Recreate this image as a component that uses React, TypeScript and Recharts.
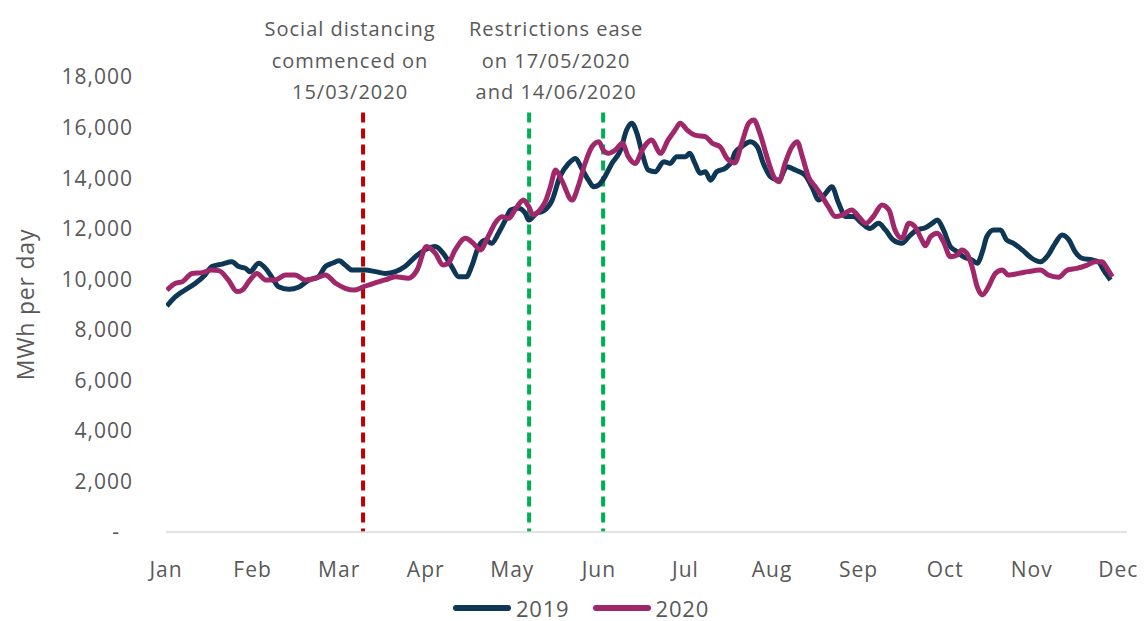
import { LineChart, Line, XAxis, YAxis, ReferenceLine, Legend } from "recharts";

// Month labels sit at evenly spaced positions 0..11 on the x axis
const MONTHS = ["Jan", "Feb", "Mar", "Apr", "May", "Jun", "Jul", "Aug", "Sep", "Oct", "Nov", "Dec"];
const MONTH_TICKS = MONTHS.map((_, i) => i);
const Y_TICKS = [0, 2000, 4000, 6000, 8000, 10000, 12000, 14000, 16000, 18000];

// 2019 daily demand (MWh per day), position in months from Jan
const X_2019 = [
  0.01, 0.11, 0.22, 0.34, 0.45, 0.53, 0.65, 0.76, 0.84, 0.92, 0.97,
  1.07, 1.15, 1.23, 1.3, 1.42, 1.53, 1.65, 1.76, 1.84, 1.92,
  2.0, 2.07, 2.15, 2.3, 2.42, 2.53, 2.65, 2.76, 2.88, 2.99,
  3.11, 3.2, 3.3, 3.38, 3.47, 3.53, 3.61, 3.69, 3.76, 3.84, 3.92, 3.98,
  4.07, 4.15, 4.19, 4.28, 4.36, 4.46, 4.55, 4.65, 4.73, 4.8, 4.88, 4.94,
  5.0, 5.07, 5.15, 5.25, 5.32, 5.38, 5.44, 5.5, 5.57, 5.65, 5.75, 5.82, 5.9,
  6.0, 6.05, 6.11, 6.17, 6.23, 6.29, 6.36, 6.46, 6.54, 6.57, 6.65, 6.75, 6.83, 6.9, 6.98,
  7.08, 7.17, 7.27, 7.38, 7.46, 7.54, 7.62, 7.69, 7.77, 7.85, 7.94,
  8.04, 8.13, 8.23, 8.31, 8.4, 8.5, 8.58, 8.67, 8.77, 8.85, 8.91, 8.98,
  9.06, 9.14, 9.21, 9.31, 9.37, 9.43, 9.48, 9.56, 9.64, 9.71, 9.79, 9.89,
  10.0, 10.1, 10.19, 10.27, 10.35, 10.43, 10.5, 10.58, 10.7, 10.77, 10.83, 10.91,
];
const MWH_2019 = [
  8940, 9310, 9575, 9840, 10170, 10500, 10600, 10690, 10500, 10430, 10300,
  10630, 10430, 10040, 9700, 9600, 9680, 9970, 10100, 10500, 10630,
  10730, 10560, 10360, 10360, 10300, 10230, 10300, 10500, 10890, 11160,
  11290, 11030, 10500, 10100, 10100, 10500, 11290, 11550, 11420, 11820, 12340, 12740,
  12810, 12610, 12340, 12610, 12700, 13130, 14060, 14580, 14780, 14390, 13920, 13660,
  13730, 14060, 14580, 15110, 15900, 16170, 15770, 14980, 14320, 14250, 14650, 14580, 14850,
  14850, 14980, 14580, 14190, 14250, 13920, 14250, 14390, 14720, 15000, 15240, 15440, 15240, 14580, 14060,
  13920, 14450, 14320, 14120, 13660, 13130, 13400, 13660, 13000, 12480, 12480,
  12210, 12010, 12210, 11950, 11550, 11420, 11680, 11950, 12040, 12210, 12340, 11950,
  11290, 11090, 10890, 10760, 10630, 11090, 11680, 11950, 11950, 11550, 11420, 11160,
  10830, 10690, 10960, 11420, 11750, 11550, 11090, 10830, 10760, 10690, 10360, 9970,
];

// 2020 daily demand (MWh per day)
const X_2020 = [
  0.01, 0.11, 0.19, 0.3, 0.42, 0.53, 0.61, 0.72, 0.82, 0.88, 0.97,
  1.05, 1.15, 1.26, 1.38, 1.49, 1.61, 1.73, 1.84, 1.96,
  2.07, 2.17, 2.28, 2.4, 2.53, 2.65, 2.8, 2.9,
  3.01, 3.11, 3.2, 3.26, 3.34, 3.46, 3.55, 3.63, 3.72, 3.8, 3.88, 3.96,
  4.03, 4.13, 4.19, 4.24, 4.32, 4.38, 4.44, 4.5, 4.57, 4.69, 4.76, 4.84, 4.92, 5.0,
  5.05, 5.11, 5.19, 5.27, 5.34, 5.42, 5.5, 5.61, 5.71, 5.8, 5.88, 5.94,
  6.02, 6.11, 6.23, 6.31, 6.4, 6.48, 6.57, 6.65, 6.73, 6.79, 6.86, 6.94,
  7.02, 7.08, 7.15, 7.23, 7.29, 7.35, 7.42, 7.5, 7.58, 7.65, 7.73, 7.81, 7.92,
  8.0, 8.08, 8.17, 8.27, 8.35, 8.42, 8.5, 8.58, 8.65, 8.73, 8.77, 8.83, 8.91, 8.98,
  9.06, 9.14, 9.19, 9.25, 9.31, 9.37, 9.43, 9.5, 9.58, 9.66, 9.73, 9.85, 9.96,
  10.1, 10.19, 10.31, 10.41, 10.52, 10.64, 10.73, 10.81, 10.87, 10.93,
];
const MWH_2020 = [
  9570, 9840, 9900, 10230, 10260, 10360, 10340, 9970, 9510, 9570, 9970,
  10230, 9970, 9970, 10170, 10170, 9970, 10040, 10170, 9840,
  9640, 9570, 9700, 9840, 9970, 10100, 10040, 10360,
  11290, 11030, 10560, 10630, 11160, 11620, 11420, 11160, 11680, 12210, 12470, 12410,
  12740, 13130, 12870, 12540, 12740, 13060, 13660, 14320, 13920, 13130, 13660, 14580, 15240, 15440,
  15110, 14980, 15110, 15380, 14850, 14580, 15110, 15510, 14980, 15510, 15900, 16170,
  15900, 15700, 15640, 15380, 15240, 14780, 14600, 15380, 16170, 16300, 15770, 14850,
  14060, 13860, 14580, 15240, 15440, 14850, 14060, 13660, 13260, 12870, 12480, 12540, 12740,
  12480, 12210, 12480, 12940, 12740, 11950, 11620, 12210, 12080, 11550, 11320, 11680, 11820, 11480,
  10890, 10960, 11160, 11030, 10500, 9700, 9380, 9700, 10230, 10360, 10170, 10230, 10300,
  10360, 10170, 10080, 10360, 10430, 10560, 10690, 10690, 10430, 10100,
];

// Policy dates marked on the axis (month position) and their notes
const EVENT_X = [2.276, 4.194, 5.049];
const EVENT_COLORS = ["#C00000", "#00B050", "#00B050"];
const EVENT_TOP = 16600;
const NOTE_DISTANCING = ["Social distancing", "commenced on", "15/03/2020"];
const NOTE_EASE = ["Restrictions ease", "on 17/05/2020", "and 14/06/2020"];

const zip = (xs: number[], vs: number[]) => xs.map((x, i) => ({ x, v: vs[i] }));
const data2019 = zip(X_2019, MWH_2019);
const data2020 = zip(X_2020, MWH_2020);

const FONT = "'Open Sans', sans-serif";
const TEXT = "#595959";
const C2019 = "#0D3755";
const C2020 = "#A0286A";

const YTick = ({ x, y, payload }: any) => (
  <text
    x={payload.value === 0 ? x - 13 : x}
    y={y}
    dy="0.355em"
    textAnchor="end"
    fill={TEXT}
    fontFamily={FONT}
    fontSize={21}
    letterSpacing={1}
  >
    {payload.value === 0 ? "-" : payload.value.toLocaleString("en-US")}
  </text>
);

const noteLabel = (lines: string[], dx: number) => (props: any) => {
  const vb = props.viewBox;
  const cx = vb.x + dx;
  return (
    <text textAnchor="middle" fill={TEXT} fontFamily={FONT} fontSize={20} letterSpacing={1}>
      {lines.map((l, i) => (
        <tspan key={i} x={cx} y={vb.y - 76 + i * 31.5}>
          {l}
        </tspan>
      ))}
    </text>
  );
};

const YLabel = (props: any) => {
  const vb = props.viewBox;
  const cy = vb.y + vb.height / 2;
  return (
    <text
      x={25}
      y={cy}
      transform={`rotate(-90, 25, ${cy})`}
      textAnchor="middle"
      dominantBaseline="central"
      fill={TEXT}
      fontFamily={FONT}
      fontSize={23}
      letterSpacing={0.8}
    >
      MWh per day
    </text>
  );
};

const LegendRow = () => (
  <div
    style={{
      height: 30,
      display: "flex",
      justifyContent: "center",
      alignItems: "center",
      paddingTop: 4,
      paddingLeft: 17,
      boxSizing: "border-box",
      fontFamily: FONT,
      fontSize: 22,
      color: TEXT,
      letterSpacing: 0.8,
    }}
  >
    {[
      { name: "2019", color: C2019 },
      { name: "2020", color: C2020 },
    ].map((s, i) => (
      <div key={s.name} style={{ display: "flex", alignItems: "center", marginLeft: i ? 23 : 0 }}>
        <span style={{ width: 58, height: 6, borderRadius: 3, background: s.color, marginRight: 5 }} />
        <span style={{ lineHeight: "24px" }}>{s.name}</span>
      </div>
    ))}
  </div>
);

export default function App() {
  return (
    <div style={{ position: "absolute", left: 0, top: 0, background: "#fff" }}>
      <LineChart width={1145} height={621} margin={{ top: 77, right: 18, bottom: 0, left: 0 }}>
        <XAxis
          type="number"
          dataKey="x"
          domain={[0, 11.1]}
          ticks={MONTH_TICKS}
          interval={0}
          tickFormatter={(i: number) => MONTHS[i]}
          tickLine={false}
          axisLine={{ stroke: "#D9D9D9", strokeWidth: 1.5 }}
          tick={{ fill: TEXT, fontFamily: FONT, fontSize: 21, letterSpacing: 1 }}
          tickMargin={24}
          height={59}
          allowDataOverflow
        />
        <YAxis
          domain={[0, 18000]}
          ticks={Y_TICKS}
          interval={0}
          axisLine={false}
          tickLine={false}
          tickMargin={27}
          width={166}
          tick={<YTick />}
          label={<YLabel />}
        />
        {EVENT_X.map((x, i) => (
          <ReferenceLine
            key={i}
            segment={[
              { x, y: EVENT_TOP },
              { x, y: 0 },
            ]}
            stroke={EVENT_COLORS[i]}
            strokeWidth={4}
            strokeDasharray="10 6"
            label={
              i === 0
                ? { content: noteLabel(NOTE_DISTANCING, -13) }
                : i === 1
                ? { content: noteLabel(NOTE_EASE, 27) }
                : undefined
            }
          />
        ))}
        <Line
          data={data2019}
          dataKey="v"
          name="2019"
          type="monotone"
          stroke={C2019}
          strokeWidth={5}
          dot={false}
          isAnimationActive={false}
        />
        <Line
          data={data2020}
          dataKey="v"
          name="2020"
          type="monotone"
          stroke={C2020}
          strokeWidth={5}
          dot={false}
          isAnimationActive={false}
        />
        <Legend verticalAlign="bottom" content={<LegendRow />} wrapperStyle={{ left: 0, width: 1145 }} />
      </LineChart>
    </div>
  );
}
